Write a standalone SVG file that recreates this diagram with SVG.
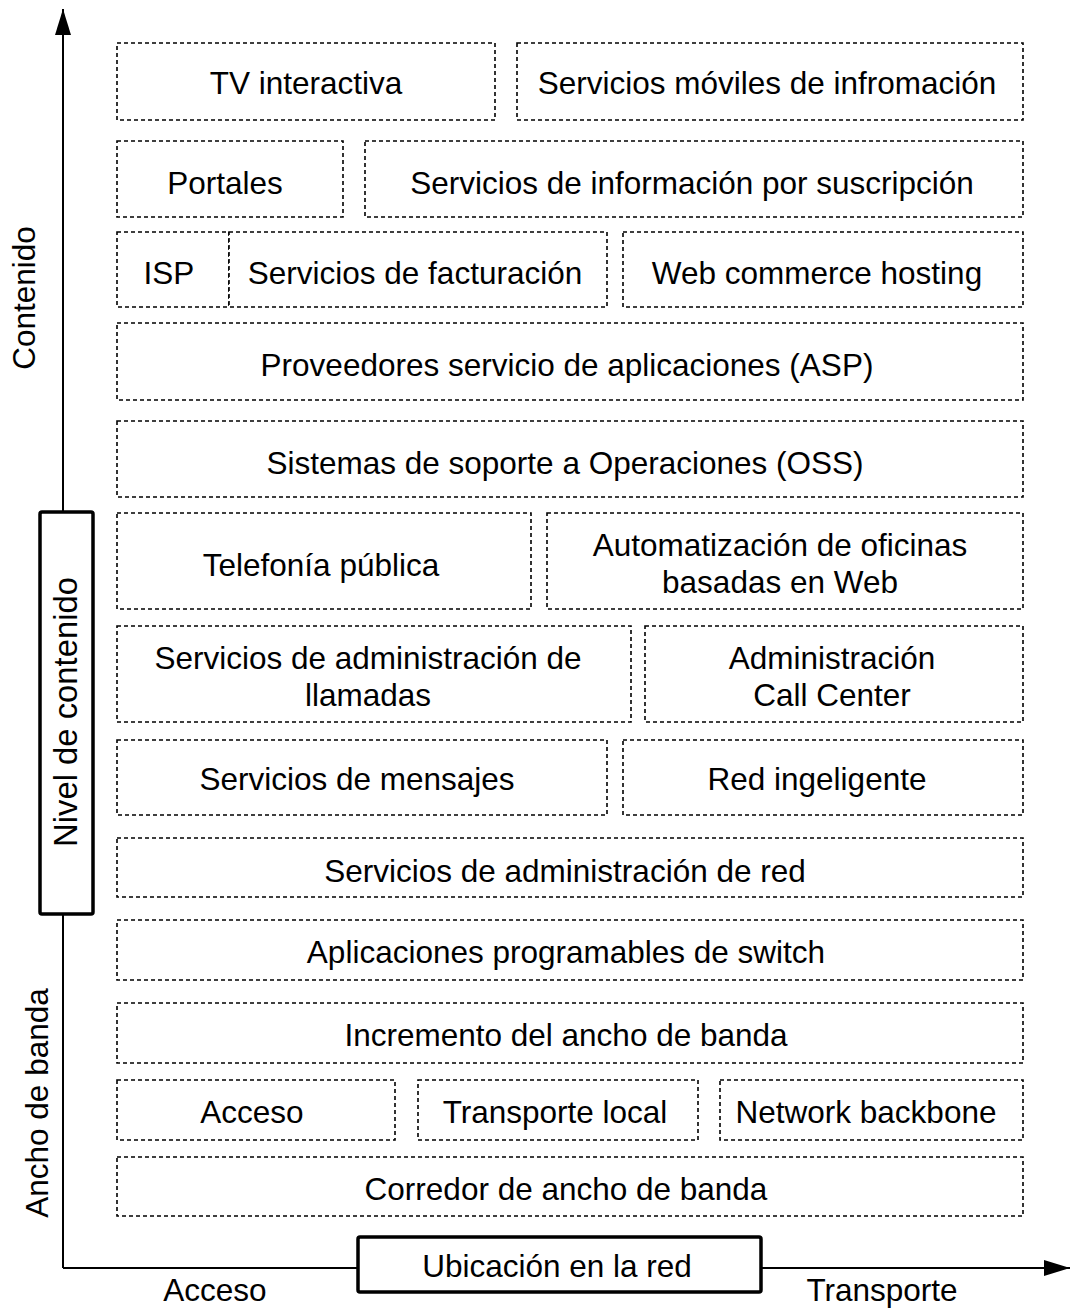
<svg xmlns="http://www.w3.org/2000/svg" width="1070" height="1308" viewBox="0 0 1070 1308">
  <defs>
    <style>
      text { font-family: "Liberation Sans", Arial, sans-serif; font-size: 31.5px; fill: #000; text-anchor: middle; }
      .big { font-size: 32.8px; }
      .box { fill: #fff; stroke: #000; stroke-width: 1.6; stroke-dasharray: 4 3; }
      .axis { fill: none; stroke: #000; stroke-width: 2; }
      .frame { fill: #fff; stroke: #000; stroke-width: 3.5; }
    </style>
    <marker id="arrow" viewBox="0 0 26 16" refX="26" refY="8" markerWidth="26" markerHeight="16" markerUnits="userSpaceOnUse" orient="auto">
      <path d="M0,0 L26,8 L0,16 Z" fill="#000"/>
    </marker>
  </defs>
  <rect width="1070" height="1308" fill="#fff"/>

  <!-- axes -->
  <g id="connectors">
    <path class="axis" d="M63,1268 L63,9" marker-end="url(#arrow)"/>
    <path class="axis" d="M63,1268 L1070,1268" marker-end="url(#arrow)"/>
  </g>

  <!-- axis labels -->
  <g id="axis-labels">
    <text transform="translate(35,298) rotate(-90)">Contenido</text>
    <text transform="translate(48,1103) rotate(-90)">Ancho de banda</text>
    <text x="215" y="1301">Acceso</text>
    <text x="882" y="1301">Transporte</text>
  </g>

  <g id="nivel-contenido">
    <rect class="frame" x="40" y="512" width="53" height="402" rx="2"/>
    <text class="big" transform="translate(77,712) rotate(-90)">Nivel de contenido</text>
  </g>

  <g id="ubicacion-red">
    <rect class="frame" x="358" y="1237" width="403" height="55" rx="2"/>
    <text x="557" y="1277">Ubicación en la red</text>
  </g>

  <!-- service layers, top to bottom -->
  <g id="tv-interactiva">
    <rect class="box" x="117" y="43" width="378" height="77"/>
    <text x="306" y="94">TV interactiva</text>
  </g>
  <g id="servicios-moviles">
    <rect class="box" x="517" y="43" width="506" height="77"/>
    <text x="767" y="94">Servicios móviles de infromación</text>
  </g>

  <g id="portales">
    <rect class="box" x="117" y="141" width="226" height="76"/>
    <text x="225" y="194">Portales</text>
  </g>
  <g id="servicios-suscripcion">
    <rect class="box" x="365" y="141" width="658" height="76"/>
    <text x="692" y="194">Servicios de información por suscripción</text>
  </g>

  <g id="isp">
    <rect class="box" x="117" y="232" width="112" height="75"/>
    <text x="169" y="284">ISP</text>
  </g>
  <g id="servicios-facturacion">
    <rect class="box" x="229" y="232" width="378" height="75"/>
    <text x="415" y="284">Servicios de facturación</text>
  </g>
  <g id="web-commerce">
    <rect class="box" x="623" y="232" width="400" height="75"/>
    <text x="817" y="284">Web commerce hosting</text>
  </g>

  <g id="asp">
    <rect class="box" x="117" y="323" width="906" height="77"/>
    <text x="567" y="376">Proveedores servicio de aplicaciones (ASP)</text>
  </g>

  <g id="oss">
    <rect class="box" x="117" y="421" width="906" height="76"/>
    <text x="565" y="474">Sistemas de soporte a Operaciones (OSS)</text>
  </g>

  <g id="telefonia-publica">
    <rect class="box" x="117" y="513" width="414" height="96"/>
    <text x="321" y="576">Telefonía pública</text>
  </g>
  <g id="automatizacion-oficinas">
    <rect class="box" x="547" y="513" width="476" height="96"/>
    <text x="780" y="556">Automatización de oficinas</text>
    <text x="780" y="593">basadas en Web</text>
  </g>

  <g id="administracion-llamadas">
    <rect class="box" x="117" y="626" width="514" height="96"/>
    <text x="368" y="669">Servicios de administración de</text>
    <text x="368" y="706">llamadas</text>
  </g>
  <g id="call-center">
    <rect class="box" x="645" y="626" width="378" height="96"/>
    <text x="832" y="669">Administración</text>
    <text x="832" y="706">Call Center</text>
  </g>

  <g id="servicios-mensajes">
    <rect class="box" x="117" y="740" width="490" height="75"/>
    <text x="357" y="790">Servicios de mensajes</text>
  </g>
  <g id="red-inteligente">
    <rect class="box" x="623" y="740" width="400" height="75"/>
    <text x="817" y="790">Red ingeligente</text>
  </g>

  <g id="administracion-red">
    <rect class="box" x="117" y="838" width="906" height="59"/>
    <text x="565" y="882">Servicios de administración de red</text>
  </g>

  <g id="aplicaciones-switch">
    <rect class="box" x="117" y="920" width="906" height="60"/>
    <text x="566" y="963">Aplicaciones programables de switch</text>
  </g>

  <g id="incremento-ancho-banda">
    <rect class="box" x="117" y="1003" width="906" height="60"/>
    <text x="566" y="1046">Incremento del ancho de banda</text>
  </g>

  <g id="acceso">
    <rect class="box" x="117" y="1080" width="278" height="60"/>
    <text x="252" y="1123">Acceso</text>
  </g>
  <g id="transporte-local">
    <rect class="box" x="418" y="1080" width="280" height="60"/>
    <text x="555" y="1123">Transporte local</text>
  </g>
  <g id="network-backbone">
    <rect class="box" x="720" y="1080" width="303" height="60"/>
    <text x="866" y="1123">Network backbone</text>
  </g>

  <g id="corredor-ancho-banda">
    <rect class="box" x="117" y="1157" width="906" height="59"/>
    <text x="566" y="1200">Corredor de ancho de banda</text>
  </g>
</svg>
